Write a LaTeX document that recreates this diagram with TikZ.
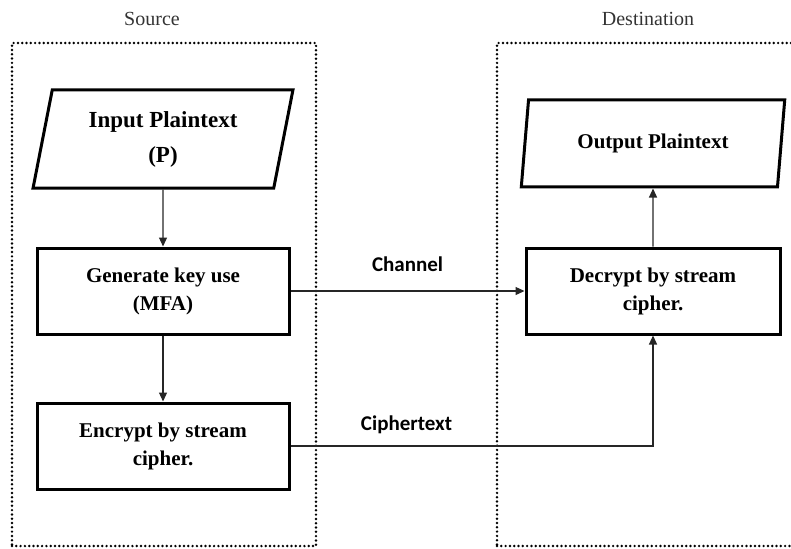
\documentclass[tikz,border=0pt]{standalone}
\usepackage{fontspec}
\setmainfont{Liberation Serif}
\newfontfamily\labelfont{Carlito}
\usetikzlibrary{shapes.geometric, arrows.meta, positioning}
\tikzset{>={Triangle[length=9pt,width=8pt]}}
\tikzset{flow-line/.style={line width=1.2pt, draw=black!85}}
\tikzset{flow-box/.style={draw, line width=3pt, minimum width=252pt, minimum height=86pt, inner sep=0, align=center, font=\fontsize{21}{28}\selectfont\bfseries}}
\tikzset{flow-io/.style={flow-box, trapezium, trapezium left angle=77, trapezium right angle=103, trapezium stretches=true, minimum width=260pt, minimum height=98pt}}
\tikzset{dot-frame/.style={draw, line width=2.7pt, line cap=round, dash pattern=on 0pt off 4.3pt, minimum width=304pt, minimum height=503pt, inner sep=0}}
\tikzset{side-title/.style={font=\fontsize{20}{24}\selectfont, text=black!80}}
\tikzset{chan-label/.style={font=\labelfont\fontsize{21}{24}\selectfont\bfseries}}

\begin{document}
\begin{tikzpicture}[x=1pt, y=-1pt]
    \useasboundingbox (0,0) rectangle (791,548);
    \clip (0,0) rectangle (791,548);

    % frames
    \node[dot-frame] (srcframe) at (164,294.5) {};
    \node[dot-frame] (dstframe) at (649,294.5) {};
    \node[side-title] (srctitle) at (152,19) {Source};
    \node[side-title] (dsttitle) at (648,19) {Destination};

    % source side
    \node[flow-io, font=\fontsize{23}{35}\selectfont\bfseries] (inp) at (163,139) {Input Plaintext\\(P)};
    \node[flow-box, below=57pt of inp] (gen) {Generate key use\\(MFA)};
    \node[flow-box, below=66pt of gen] (enc) {Encrypt by stream\\cipher.};

    % destination side
    \node[flow-box, right=234pt of gen, minimum width=254pt] (dec) {Decrypt by stream\\cipher.};
    \node[flow-io, above=58pt of dec, minimum width=264pt, minimum height=87pt] (out) {Output Plaintext};

    \draw[flow-line, ->] (inp) -- (gen);
    \draw[flow-line, ->] (gen) -- (enc);
    \draw[flow-line, ->] (dec) -- (out);
    \draw[flow-line, ->] (gen.east) -- (gen.east -| dec.west)
        node[midway, above=15pt, chan-label] (chanlbl) {Channel};
    \draw[flow-line, ->] (enc.east) -| (dec.south)
        node[pos=0.16, above=8pt, chan-label] (ciphlbl) {Ciphertext};
\end{tikzpicture}
\end{document}
